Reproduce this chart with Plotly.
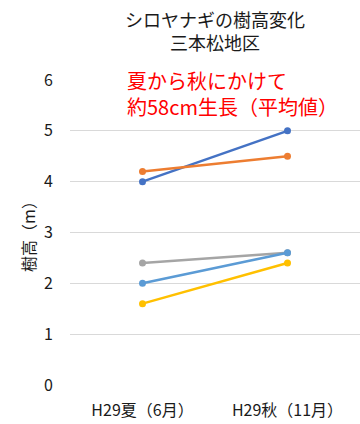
import plotly.graph_objects as go

# Survey periods (categories on the x axis)
periods = ["H29夏（6月）", "H29秋（11月）"]

# Tree heights (m) for each sampled willow
tree_a = [4.0, 5.0]
tree_b = [4.2, 4.5]
tree_c = [2.4, 2.6]
tree_d = [2.0, 2.6]
tree_e = [1.6, 2.4]

series = [tree_a, tree_b, tree_c, tree_d, tree_e]
colors = ["#4472C4", "#ED7D31", "#A5A5A5", "#5B9BD5", "#FFC000"]
names = ["A", "B", "C", "D", "E"]

font_family = "Noto Sans CJK JP, Noto Sans, sans-serif"

fig = go.Figure()
for vals, col, nm in zip(series, colors, names):
    fig.add_trace(go.Scatter(
        x=periods, y=vals, mode="lines+markers", name=nm,
        line=dict(color=col, width=2.5),
        marker=dict(color=col, size=7),
        showlegend=False,
    ))

fig.update_layout(
    width=360, height=424,
    margin=dict(l=70, r=0, t=80, b=39),
    paper_bgcolor="white", plot_bgcolor="white",
    font=dict(family=font_family, color="#1a1a1a", size=15),
    xaxis=dict(
        type="category", range=[-0.5, 1.5],
        showgrid=False, zeroline=False, showline=False,
        ticks="", ticklabelstandoff=14,
        tickfont=dict(size=16, color="#1a1a1a"),
    ),
    yaxis=dict(
        range=[0, 6], dtick=1, tick0=0,
        showgrid=True, gridcolor="#D9D9D9", gridwidth=1,
        zeroline=False, showline=False, ticks="",
        ticklabelstandoff=16,
        tickfont=dict(size=16, color="#1a1a1a"),
        title=dict(text="樹高（m）", standoff=4,
                   font=dict(size=16, color="#1a1a1a")),
    ),
    annotations=[
        dict(
            text="シロヤナギの樹高変化<br>三本松地区",
            xref="paper", yref="paper", x=0.5, y=1.162,
            xanchor="center", yanchor="middle", align="center",
            showarrow=False,
            font=dict(size=18, color="#1a1a1a", family=font_family),
        ),
        dict(
            text="夏から秋にかけて<br>約58cm生長（平均値）",
            xref="paper", yref="paper", x=0.19, y=1.052,
            xanchor="left", yanchor="top", align="left", showarrow=False,
            font=dict(size=20, color="#FF0000", family=font_family),
        ),
    ],
)

fig.write_html("out.html")
